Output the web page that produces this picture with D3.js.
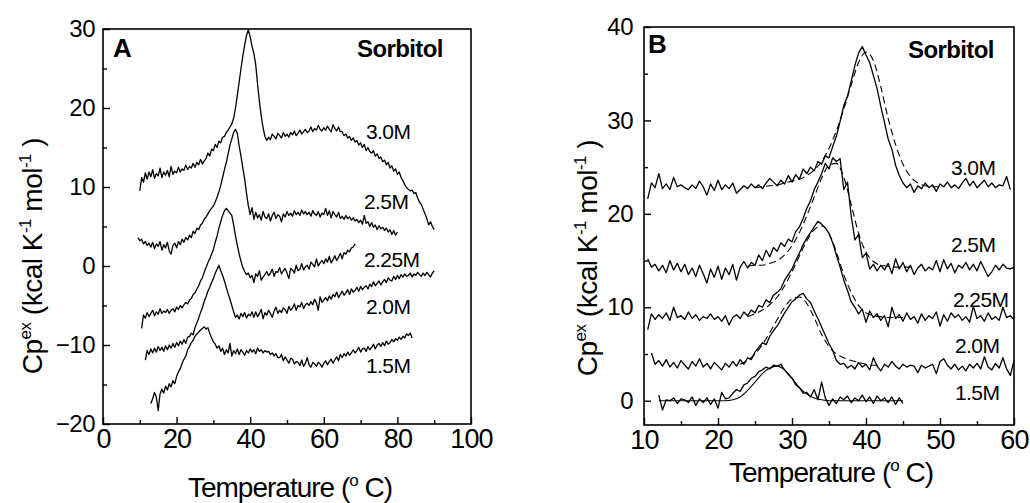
<!DOCTYPE html>
<html>
<head>
<meta charset="utf-8">
<script src="https://cdn.jsdelivr.net/npm/d3@7"></script>
<style>
  body { margin: 0; background: #fff; }
  svg { display: block; }
  text { font-family: "Liberation Sans", Arial, sans-serif; fill: #000; }
</style>
</head>
<body>
<svg id="chart" width="1030" height="503"></svg>
<script>
// ---------- data (Cp excess, kcal/K/mol) ----------
var concLabels = ["3.0M", "2.5M", "2.25M", "2.0M", "1.5M"];
var sampleStep = 0.5;   // degC between samples of the raw traces
var fitStep = 1;        // degC between samples of the fitted curves

// panel A: raw traces, first temperature of each trace
var startA = [10, 9.5, 10.5, 11.5, 13];

var cpA30 = [
  9.5, 11.2, 10.6, 11.8, 11.0, 11.9, 11.3, 12.2, 11.1, 11.7,
  11.4, 12.4, 11.2, 11.9, 11.5, 12.1, 11.3, 12.6, 11.6, 12.0,
  11.8, 12.5, 11.9, 12.3, 12.1, 12.8, 12.2, 12.6, 12.4, 13.0,
  12.5, 13.1, 12.8, 13.5, 12.9, 13.3, 13.6, 14.3, 13.9, 14.8,
  14.6, 15.4, 15.0, 15.8, 15.6, 16.3, 16.4, 16.9, 17.2, 17.6,
  18.0, 18.7, 20.0, 21.6, 23.3, 25.0, 26.6, 28.0, 29.2, 29.9,
  29.0, 27.8, 26.9, 25.5, 23.0, 20.8, 19.0, 17.5, 16.4, 15.9,
  16.3, 16.0, 16.7, 16.4, 16.1, 16.8, 16.5, 16.2, 16.9, 16.4,
  16.7, 16.3, 16.9, 16.6, 17.1, 16.5, 16.8, 17.2, 16.7, 17.0,
  17.3, 16.9, 17.1, 17.6, 17.0, 17.4, 17.2, 17.8, 17.3, 17.1,
  17.5, 17.2, 17.7, 17.3, 17.0, 17.9, 17.4, 17.1, 17.6, 17.0,
  17.0, 16.5, 16.7, 16.2, 16.4, 15.9, 16.2, 15.7, 15.9, 15.3,
  15.6, 15.0, 15.4, 14.6, 15.0, 14.5, 14.3, 14.6, 13.9, 14.2,
  13.6, 13.8, 13.2, 13.4, 12.8, 13.1, 12.4, 12.7, 12.0, 12.3,
  11.6, 11.9, 11.2, 10.8, 10.3, 9.9, 9.7, 9.5, 9.6, 9.2,
  9.3, 8.6, 8.1, 7.8, 7.2, 6.6, 6.0, 5.2, 5.6, 5.0,
  4.6
];
var cpA25 = [
  3.6, 3.2, 3.4, 2.8, 3.1, 2.6, 2.9, 2.4, 3.0, 2.2,
  2.8, 2.5, 3.1, 2.0, 2.7, 2.3, 3.0, 1.9, 1.5, 2.6,
  2.9, 2.3, 3.1, 2.7, 3.4, 3.0, 3.6, 3.3, 3.9, 3.6,
  4.4, 4.1, 4.8, 4.6, 5.2, 5.4, 5.9, 6.2, 6.6, 7.0,
  7.3, 7.6, 8.1, 8.7, 9.4, 10.2, 11.2, 12.2, 13.1, 14.2,
  15.3, 16.1, 16.9, 17.3, 16.8, 15.2, 13.9, 12.4, 11.0, 9.2,
  7.6, 6.5, 7.4, 5.9, 6.8, 6.1, 6.5, 5.8, 6.9, 6.2,
  6.0, 6.6, 5.7, 6.4, 6.8, 6.0, 6.5, 6.3, 5.6, 6.6,
  6.2, 6.9, 6.4, 6.7, 6.3, 7.0, 6.5, 6.8, 6.4, 7.1,
  6.6, 6.9, 6.5, 6.8, 6.3, 7.0, 6.6, 6.4, 6.9, 6.2,
  6.7, 6.5, 7.3, 6.4, 7.0, 6.1, 6.9, 6.5, 6.2, 6.8,
  6.0, 6.3, 5.9, 6.4, 6.0, 6.2, 5.8, 6.1, 5.7, 5.9,
  5.5, 5.8, 5.3, 6.4, 5.4, 5.6, 5.0, 5.5, 4.9, 5.2,
  4.6, 5.1, 4.7, 4.9, 4.5, 4.8, 4.3, 4.6, 4.0, 4.5,
  3.9, 4.3
];
var cpA225 = [
  -7.9, -6.2, -6.6, -5.9, -6.4, -6.0, -5.6, -6.3, -5.8, -6.1,
  -5.4, -6.0, -5.7, -5.9, -5.5, -6.0, -5.6, -5.4, -5.8, -5.2,
  -5.5, -5.0, -5.3, -4.9, -4.6, -4.8, -4.3, -4.1, -3.6, -3.4,
  -2.9, -2.5, -1.9, -1.5, -0.8, -0.2, 0.4, 0.9, 1.5, 2.1,
  3.0, 3.8, 4.8, 5.6, 6.4, 7.0, 7.3, 7.0, 6.7, 6.4,
  5.2, 3.8, 2.6, 1.5, 0.6, -0.2, -0.7, -1.1, -0.9, -1.5,
  -1.2, -2.1, -1.0, -1.3, -0.6, -1.8, -1.4, -1.1, -0.7, -1.2,
  -0.9, -0.4, -1.3, -0.7, -0.8, -0.2, -1.0, -0.6, -0.3, -0.9,
  -1.6, -0.3, -0.5, -0.9, 0.1, -0.6, -0.4, 0.3, -0.5, -0.1,
  0.1, -0.4, 0.5, 0.2, -0.1, 0.9, 0.0, 0.4, 0.7, 0.3,
  0.9, 0.5, 1.2, 0.4, 0.8, 1.3, 0.7, 1.1, 1.6, 0.9,
  1.7, 1.5, 2.0, 1.8, 2.3, 2.4, 2.8
];
var cpA20 = [
  -11.9, -10.7, -11.2, -10.5, -11.0, -10.4, -10.9, -10.2, -10.7, -10.3,
  -10.8, -10.1, -10.6, -10.0, -10.4, -9.8, -10.3, -9.7, -10.1, -9.5,
  -9.9, -9.3, -9.8, -9.0, -8.9, -8.5, -8.7, -7.8, -7.2, -6.6,
  -5.9, -5.3, -4.5, -3.9, -3.2, -2.7, -2.1, -1.6, -0.9, -0.4,
  0.1, -0.6, -1.2, -1.9, -2.7, -3.5, -4.2, -5.0, -5.8, -6.5,
  -6.2, -6.7, -6.0, -6.4, -5.9, -6.6, -6.1, -6.3, -5.8, -6.5,
  -5.8, -6.4, -6.0, -5.5, -6.7, -5.9, -6.2, -5.6, -6.0, -6.5,
  -5.7, -5.2, -6.0, -5.6, -5.9, -5.3, -5.5, -6.0, -5.1, -5.6,
  -5.3, -4.8, -5.6, -5.0, -5.2, -4.6, -5.4, -4.9, -4.7, -5.0,
  -4.5, -4.9, -4.2, -4.7, -5.6, -3.9, -4.6, -4.3, -4.0, -4.4,
  -3.8, -4.2, -3.6, -3.9, -3.3, -4.0, -3.6, -3.2, -3.7, -3.4,
  -3.0, -3.6, -2.9, -3.3, -3.1, -2.7, -3.2, -2.6, -3.0, -2.7,
  -2.5, -2.9, -2.3, -2.6, -2.0, -2.5, -2.2, -1.9, -2.4, -2.0,
  -1.7, -2.1, -1.5, -1.8, -1.9, -1.3, -1.7, -1.2, -1.6, -1.1,
  -1.4, -1.0, -1.3, -1.2, -0.9, -1.4, -1.0, -1.2, -0.8, -1.1,
  -1.3, -0.9, -1.2, -0.8, -1.1, -1.4, -0.9, -0.6
];
var cpA15 = [
  -17.4, -16.8, -16.0, -16.6, -18.3, -16.2, -15.6, -16.1, -15.2, -15.7,
  -14.9, -15.3, -14.5, -14.9, -14.0, -13.4, -13.0, -12.3, -11.8, -11.4,
  -10.6, -10.2, -9.7, -9.4, -8.9, -8.6, -8.4, -8.1, -7.9, -7.7,
  -8.0, -7.8, -8.5, -9.1, -9.6, -9.9, -10.4, -10.1, -10.8, -10.4,
  -11.2, -10.6, -11.0, -9.8, -11.4, -10.7, -11.1, -10.5, -11.2, -10.6,
  -10.9, -11.3, -10.7, -11.0, -10.5, -10.9, -10.6, -11.1, -10.4, -10.8,
  -10.6, -11.0, -10.7, -10.9, -10.8, -11.2, -11.0, -11.4, -11.1, -11.6,
  -11.6, -11.2, -12.0, -11.5, -11.9, -12.3, -11.7, -11.8, -12.4, -12.1,
  -12.2, -12.6, -11.9, -12.7, -12.3, -11.6, -12.5, -12.8, -12.2, -12.4,
  -12.7, -12.2, -12.4, -12.8, -12.3, -12.0, -12.5, -12.1, -11.8, -12.3,
  -11.9, -11.5, -12.0, -11.2, -11.6, -11.1, -11.4, -10.9, -11.3, -11.0,
  -10.6, -11.0, -10.7, -10.3, -10.9, -10.5, -10.4, -10.8, -10.2, -10.6,
  -10.3, -9.9, -10.5, -10.0, -9.8, -10.2, -9.7, -10.1, -9.5, -9.9,
  -9.7, -9.3, -9.6, -9.2, -9.4, -9.0, -9.3, -8.9, -9.1, -8.6,
  -8.8, -8.5, -9.1
];

// panel B: baseline-shifted traces
var startB = [10.5, 10.5, 10.5, 11, 12];

var cpB30 = [
  21.6, 23.3, 22.8, 24.3, 22.7, 23.2, 22.6, 23.9, 22.9, 23.1,
  22.8, 22.6, 23.1, 22.7, 23.5, 22.9, 22.0, 23.2, 22.5, 23.6,
  22.6, 23.1, 22.7, 23.3, 22.2, 22.6, 23.0, 22.7, 23.2, 22.8,
  23.1, 22.7, 23.3, 23.8, 23.4, 23.0, 23.6, 23.2, 24.1, 23.4,
  24.2, 23.7, 24.8, 24.3, 25.0, 24.6, 25.6, 25.3, 26.2, 26.0,
  27.2, 28.3, 29.9, 31.6, 32.6, 34.2, 35.9, 37.2, 37.9, 37.0,
  36.2, 34.8, 33.4, 31.5, 29.8, 28.0, 26.9, 25.2, 24.1, 23.3,
  22.8, 23.2, 22.3, 23.0, 22.7, 23.3, 22.8, 23.1, 22.4, 23.2,
  22.9, 23.4, 22.8, 23.1, 22.7, 23.3, 23.8, 23.0, 23.5, 22.8,
  23.2, 23.6, 22.9, 23.3, 22.8, 23.1, 23.0, 24.0, 22.6
];
var cpB25 = [
  15.2, 14.3, 14.6, 13.9, 14.5, 13.7, 15.0, 14.0, 14.7, 13.8,
  14.6, 13.5, 14.2, 13.3, 14.5, 13.6, 12.6, 14.1, 13.2, 14.4,
  13.0, 14.2, 13.5, 14.6, 12.9, 14.3, 14.9, 14.2, 14.8, 14.5,
  15.6, 15.0, 16.1, 15.4, 16.4, 16.0, 16.9, 16.5, 17.3, 17.0,
  18.1, 18.6, 19.5, 20.6, 21.4, 22.6, 23.4, 24.3, 25.4, 24.8,
  26.0, 25.6, 25.9, 22.6, 23.4, 19.8, 17.2, 17.8, 15.3, 15.8,
  14.1, 14.6, 13.9, 14.5, 14.0, 14.7, 13.6, 15.2, 14.1, 14.8,
  13.8, 14.5, 13.5, 14.2, 14.6, 13.9, 14.3, 14.0, 15.0, 13.8,
  15.1, 14.1, 14.7, 13.7, 14.5, 14.2, 14.8, 14.0, 14.6, 13.9,
  14.9, 14.1, 13.3, 13.8, 14.5, 14.0, 14.6, 14.2, 14.1, 14.3
];
var cpB225 = [
  7.6, 9.3, 8.7, 9.2, 8.8, 9.4, 8.6, 10.0, 8.9, 9.1,
  8.7, 9.5, 8.8, 9.2, 8.6, 9.0, 8.8, 9.3, 8.7, 9.0,
  8.5, 9.1, 8.1, 8.9, 9.2, 8.8, 9.5, 9.1, 9.7, 9.4,
  10.2, 10.0, 10.8, 10.5, 11.3, 11.6, 12.0, 12.9, 13.5, 14.1,
  15.0, 15.8, 16.7, 17.4, 18.0, 18.6, 19.2, 18.9, 18.5, 17.9,
  16.9, 15.6, 14.3, 12.9, 11.8, 10.6, 10.0, 9.3, 9.8, 8.4,
  9.6, 8.9, 9.3, 8.6, 9.1, 7.9, 10.0, 8.8, 9.2, 8.5,
  9.4, 8.7, 9.0, 8.3, 9.3, 8.6, 9.1, 8.8, 9.5, 8.0,
  9.2, 8.5, 9.4, 8.9, 9.2, 8.6, 9.0, 8.4, 10.1, 8.8,
  9.1, 8.5, 9.4, 8.7, 9.0, 8.6, 10.0, 8.9, 9.1, 8.7
];
var cpB20 = [
  5.1, 3.9, 4.3, 3.7, 4.4, 3.6, 4.1, 3.5, 4.3, 3.8,
  3.4, 4.2, 3.7, 4.5, 3.6, 4.0, 3.4, 4.1, 3.7, 3.3,
  4.0, 3.6, 4.2, 3.7, 4.4, 3.9, 4.6, 4.4, 5.2, 5.7,
  6.2, 6.0, 6.9, 7.5, 8.0, 8.7, 9.4, 10.0, 10.6, 10.9,
  11.3, 11.5, 10.9, 10.5, 9.6, 8.8, 7.9, 7.0, 6.1, 5.4,
  4.3, 3.9, 4.0, 3.5, 3.8, 3.4, 4.1, 3.6, 3.9, 3.3,
  4.6, 3.7, 3.2, 3.9, 3.6, 4.2, 3.7, 3.4, 3.9, 3.6,
  3.8, 3.7, 3.0, 3.8, 3.5, 3.7, 3.9, 2.9, 4.2, 4.5,
  3.8, 3.4, 3.9, 3.3, 3.7, 3.2, 3.9, 3.5, 4.0, 3.4,
  4.7, 3.6, 3.3, 4.0, 3.5, 4.6, 3.4, 2.7, 4.3
];
var cpB15 = [
  0.6, -1.0, 0.1, 0.0, 0.3, -0.3, 0.2, 0.1, -0.2, 0.4,
  -0.5, 0.2, -0.2, 0.3, -0.4, 0.2, -0.8, 0.9, 0.2, 0.3,
  0.8, 1.2, 1.0, 1.7, 1.9, 2.4, 2.6, 3.1, 3.3, 3.6,
  3.4, 3.8, 3.7, 3.9, 3.3, 2.8, 2.4, 1.7, 1.4, 0.8,
  0.9, 0.4, 1.2, 0.1, 2.0, 0.3, -0.5, 0.2, -0.3, 0.4,
  0.1, 0.5, -0.2, 0.3, 0.0, 0.6, -0.1, 0.4, -0.3, 0.5,
  0.0, 0.3, -0.2, 0.4, -0.4, 0.3, -0.3
];

// panel B: fitted curves (dashed, the 1.5M fit is drawn solid)
var fitStartB = [25, 24, 24, 23, 12];
var fitB30 = [22.8, 22.9, 23.0, 23.1, 23.3, 23.5, 23.7, 24.1, 24.7, 25.6, 27.0, 28.9, 31.2,
  33.8, 36.2, 37.3, 36.4, 33.6, 30.2, 27.4, 25.3, 24.0, 23.3, 23.0, 22.9, 22.9];
var fitB25 = [14.4, 14.5, 14.5, 14.7, 15.0, 15.6, 16.6, 18.0, 19.8, 21.8, 23.8, 25.2, 25.4,
  23.9, 21.0, 17.9, 15.9, 14.9, 14.5, 14.4, 14.3, 14.3, 14.3];
var fitB225 = [9.0, 9.3, 9.7, 10.3, 11.1, 12.3, 13.8, 15.5, 17.1, 18.3, 18.7, 17.9, 15.9,
  13.5, 11.6, 10.2, 9.4, 9.1, 9.0, 8.9, 8.9, 8.9];
var fitB20 = [3.9, 4.3, 5.0, 6.0, 7.3, 8.7, 10.0, 10.9, 11.1, 10.4, 8.9, 7.1, 5.8, 5.0,
  4.6, 4.3, 4.1, 3.9, 3.8, 3.8];
var fitB15 = [0, 0, 0, 0, 0, 0, 0, 0, 0, 0, 0.1, 0.4, 1.1, 2.0, 2.9, 3.5, 3.7, 3.3, 2.4,
  1.4, 0.7, 0.3, 0.1, 0, 0, 0, 0, 0, 0, 0, 0, 0, 0, 0];

// tick values
var xTicksA = [0, 20, 40, 60, 80, 100];
var xMinorA = [10, 30, 50, 70, 90];
var yTicksA = [-20, -10, 0, 10, 20, 30];
var yMinorA = [-15, -5, 5, 15, 25];
var xTicksB = [10, 20, 30, 40, 50, 60];
var xMinorB = [15, 25, 35, 45, 55];
var yTicksB = [0, 10, 20, 30, 40];
var yMinorB = [5, 15, 25, 35];

// ---------- layout ----------
var svg = d3.select("#chart");

var panelA = {
  left: 103, right: 471, top: 29, bottom: 424,
  xDomain: [0, 100], yDomain: [-20, 30],
  xTicks: xTicksA, xMinor: xMinorA, yTicks: yTicksA, yMinor: yMinorA,
  xPad: 5, yPad: 8,
  xTitle: [290, 497], yTitle: [42, 256],
  letter: "A", letterPos: [113, 57], sorbPos: [357, 57],
  labelPos: [[366, 139], [364, 209], [364, 267], [366, 314], [366, 373]],
  traces: [cpA30, cpA25, cpA225, cpA20, cpA15], starts: startA,
  fits: [], fitStarts: []
};

var panelB = {
  left: 644, right: 1014, top: 27, bottom: 425,
  xDomain: [10, 60], yDomain: [-2.6, 40],
  xTicks: xTicksB, xMinor: xMinorB, yTicks: yTicksB, yMinor: yMinorB,
  xPad: 5, yPad: 11,
  xTitle: [831, 482], yTitle: [597, 258],
  letter: "B", letterPos: [648, 53], sorbPos: [908, 58],
  labelPos: [[951, 175], [951, 252], [953, 307], [955, 353], [955, 400]],
  traces: [cpB30, cpB25, cpB225, cpB20, cpB15], starts: startB,
  fits: [fitB30, fitB25, fitB225, fitB20, fitB15], fitStarts: fitStartB
};

var drawPanel = function (p) {
  var g = svg.append("g");

  var x = d3.scaleLinear().domain(p.xDomain).range([p.left, p.right]);
  var y = d3.scaleLinear().domain(p.yDomain).range([p.bottom, p.top]);

  // ticks point into the plot
  var xAxis = g.append("g")
    .attr("transform", "translate(0," + p.bottom + ")")
    .call(d3.axisBottom(x).tickValues(p.xTicks).tickSize(-7).tickSizeOuter(0).tickPadding(p.xPad));
  xAxis.selectAll("text").style("font-size", "27px").style("letter-spacing", "-0.8px");

  g.append("g")
    .attr("transform", "translate(0," + p.bottom + ")")
    .call(d3.axisBottom(x).tickValues(p.xMinor).tickSize(-4).tickSizeOuter(0).tickFormat(""));

  var yAxis = g.append("g")
    .attr("transform", "translate(" + p.left + ",0)")
    .call(d3.axisLeft(y).tickValues(p.yTicks).tickSize(-7).tickSizeOuter(0).tickPadding(p.yPad));
  yAxis.selectAll("text").style("font-size", "24px").style("letter-spacing", "-0.5px");

  g.append("g")
    .attr("transform", "translate(" + p.left + ",0)")
    .call(d3.axisLeft(y).tickValues(p.yMinor).tickSize(-4).tickSizeOuter(0).tickFormat(""));

  g.selectAll(".domain").remove();
  g.selectAll(".tick line").attr("stroke", "#000").attr("stroke-width", 1.4);
  g.selectAll(".tick text").attr("fill", "#000").style("font-family", "Liberation Sans, Arial, sans-serif");

  // frame
  g.append("rect")
    .attr("x", p.left).attr("y", p.top)
    .attr("width", p.right - p.left).attr("height", p.bottom - p.top)
    .attr("fill", "none").attr("stroke", "#000").attr("stroke-width", 1.6);

  // raw traces
  p.traces.forEach(function (vals, k) {
    var t0 = p.starts[k];
    var line = d3.line()
      .x(function (d, i) { return x(t0 + i * sampleStep); })
      .y(function (d) { return y(d); });
    g.append("path")
      .datum(vals)
      .attr("d", line)
      .attr("fill", "none")
      .attr("stroke", "#000")
      .attr("stroke-width", 1.3)
      .attr("stroke-linejoin", "round");
  });

  // fitted curves
  p.fits.forEach(function (vals, k) {
    var t0 = p.fitStarts[k];
    var line = d3.line()
      .curve(d3.curveMonotoneX)
      .x(function (d, i) { return x(t0 + i * fitStep); })
      .y(function (d) { return y(d); });
    g.append("path")
      .datum(vals)
      .attr("d", line)
      .attr("fill", "none")
      .attr("stroke", "#000")
      .attr("stroke-width", 1.1)
      .attr("stroke-dasharray", k === 4 ? null : "7,4");
  });

  // concentration labels
  concLabels.forEach(function (lab, k) {
    g.append("text")
      .attr("x", p.labelPos[k][0])
      .attr("y", p.labelPos[k][1])
      .style("font-size", "21px")
      .style("letter-spacing", "-0.6px")
      .text(lab);
  });

  g.append("text")
    .attr("x", p.letterPos[0]).attr("y", p.letterPos[1])
    .style("font-size", "26px").style("font-weight", "bold")
    .text(p.letter);

  g.append("text")
    .attr("x", p.sorbPos[0]).attr("y", p.sorbPos[1])
    .style("font-size", "24px").style("font-weight", "bold")
    .style("letter-spacing", "-0.6px")
    .text("Sorbitol");

  // x title
  var xt = g.append("text")
    .attr("x", p.xTitle[0]).attr("y", p.xTitle[1])
    .attr("text-anchor", "middle")
    .style("font-size", "28px")
    .style("letter-spacing", "-1px");
  xt.append("tspan").text("Temperature (");
  xt.append("tspan").attr("dy", -11).style("font-size", "17px").text("o");
  xt.append("tspan").attr("dy", 11).text(" C)");

  // y title
  var yt = g.append("text")
    .attr("transform", "translate(" + p.yTitle[0] + "," + p.yTitle[1] + ") rotate(-90)")
    .attr("text-anchor", "middle")
    .style("font-size", "28px")
    .style("letter-spacing", "-0.5px");
  yt.append("tspan").text("Cp");
  yt.append("tspan").attr("dy", -11).style("font-size", "17px").text("ex");
  yt.append("tspan").attr("dy", 11).text(" (kcal K");
  yt.append("tspan").attr("dy", -11).style("font-size", "17px").text("-1");
  yt.append("tspan").attr("dy", 11).text(" mol");
  yt.append("tspan").attr("dy", -11).style("font-size", "17px").text("-1");
  yt.append("tspan").attr("dy", 11).text(" )");
};

drawPanel(panelA);
drawPanel(panelB);
</script>
</body>
</html>
